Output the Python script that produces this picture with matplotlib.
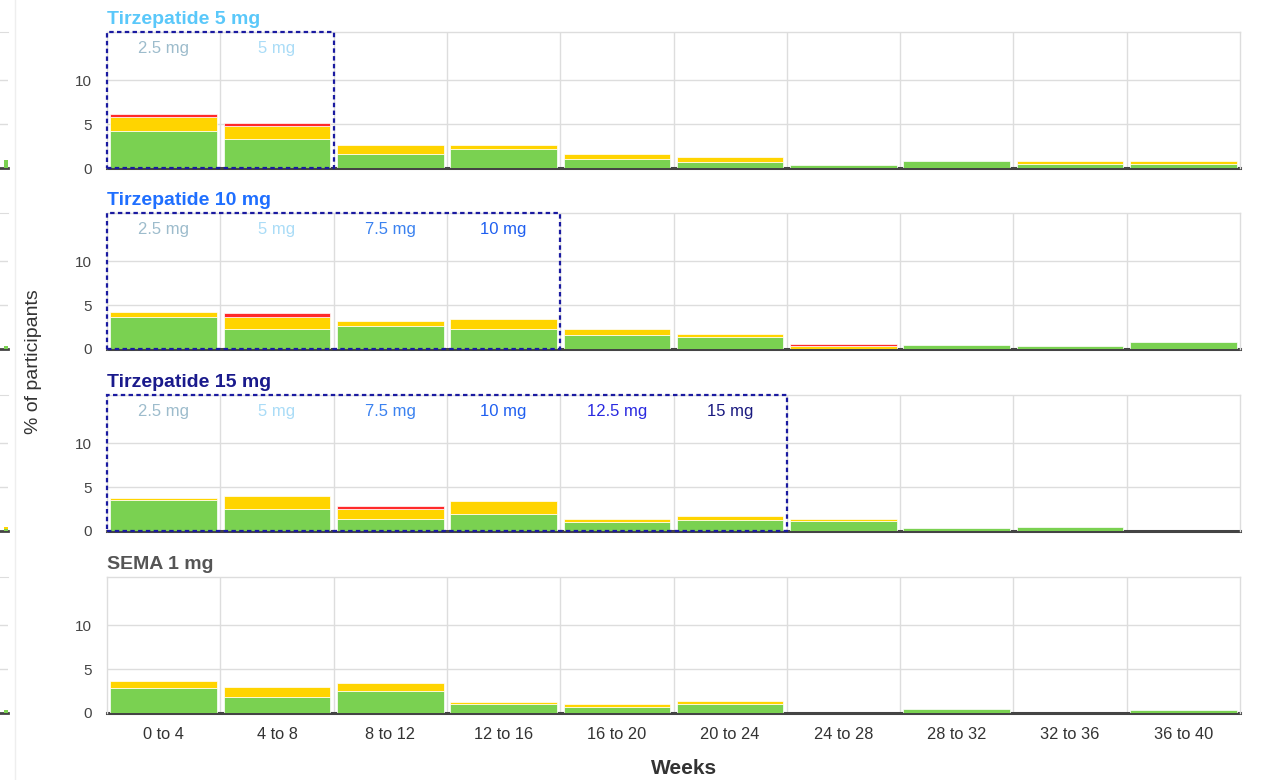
import matplotlib.pyplot as plt
from matplotlib.patches import Rectangle
from matplotlib.lines import Line2D
import numpy as np

plt.rcParams['font.family'] = ['Liberation Sans', 'DejaVu Sans']

# x categories
weeks = ['0 to 4', '4 to 8', '8 to 12', '12 to 16', '16 to 20',
         '20 to 24', '24 to 28', '28 to 32', '32 to 36', '36 to 40']

# panel titles
titles = ['Tirzepatide 5 mg', 'Tirzepatide 10 mg', 'Tirzepatide 15 mg', 'SEMA 1 mg']
title_colors = ['#5ac8fa', '#1f6fff', '#1a1a8c', '#555555']

# dose escalation labels shown in the dotted box
doses = ['2.5 mg', '5 mg', '7.5 mg', '10 mg', '12.5 mg', '15 mg']
dose_colors = ['#9dbccc', '#aadcf7', '#3b82f0', '#1f5ff0', '#2a2ae0', '#1a1a80']
box_columns = [2, 4, 6, 0]

# % of participants, stacked: mild (green), moderate (yellow), severe (red)
tirz5_mild = [4.2, 3.3, 1.6, 2.2, 1.0, 0.7, 0.3, 0.8, 0.5, 0.5]
tirz5_moderate = [1.6, 1.5, 1.0, 0.4, 0.6, 0.5, 0.0, 0.0, 0.3, 0.3]
tirz5_severe = [0.3, 0.3, 0.0, 0.0, 0.0, 0.0, 0.0, 0.0, 0.0, 0.0]

tirz10_mild = [3.6, 2.3, 2.6, 2.3, 1.6, 1.4, 0.0, 0.5, 0.3, 0.8]
tirz10_moderate = [0.6, 1.4, 0.6, 1.1, 0.7, 0.3, 0.3, 0.0, 0.0, 0.0]
tirz10_severe = [0.0, 0.45, 0.0, 0.0, 0.0, 0.0, 0.3, 0.0, 0.0, 0.0]

tirz15_mild = [3.5, 2.5, 1.4, 1.9, 1.0, 1.2, 1.1, 0.3, 0.5, 0.0]
tirz15_moderate = [0.3, 1.5, 1.1, 1.5, 0.4, 0.5, 0.3, 0.0, 0.0, 0.0]
tirz15_severe = [0.0, 0.0, 0.3, 0.0, 0.0, 0.0, 0.0, 0.0, 0.0, 0.0]

sema_mild = [2.8, 1.8, 2.5, 1.0, 0.7, 1.0, 0.0, 0.5, 0.0, 0.3]
sema_moderate = [0.8, 1.2, 0.9, 0.3, 0.3, 0.4, 0.0, 0.0, 0.0, 0.0]
sema_severe = [0.0, 0.0, 0.0, 0.0, 0.0, 0.0, 0.0, 0.0, 0.0, 0.0]

mild = [tirz5_mild, tirz10_mild, tirz15_mild, sema_mild]
moderate = [tirz5_moderate, tirz10_moderate, tirz15_moderate, sema_moderate]
severe = [tirz5_severe, tirz10_severe, tirz15_severe, sema_severe]

# bits of the neighbouring chart cut off on the left edge
sliver_mild = [0.9, 0.3, 0.2, 0.3]
sliver_moderate = [0.0, 0.0, 0.3, 0.0]

green = '#7ad151'
yellow = '#ffd400'
red = '#ff2a2a'
ymax = 15.5

fig = plt.figure(figsize=(12.61, 7.8), dpi=100)

# panels placed by hand (pixels -> figure fraction)
W, H = 1261.0, 780.0
zero_px = [168, 349, 531, 713]
panel_h = 136
left_px, right_px = 107, 1240


# zero-height segments should not draw a white edge over the zero line
def nz(v):
    v = np.array(v, dtype=float)
    return np.where(v > 0, v, np.nan)


for i in range(4):
    bottom = 1 - zero_px[i] / H
    ax = fig.add_axes([left_px / W, bottom, (right_px - left_px) / W, panel_h / H])
    x = np.arange(len(weeks))
    m = np.array(mild[i])
    mo = np.array(moderate[i])
    s = np.array(severe[i])
    ax.bar(x, nz(m), width=0.94, color=green, edgecolor='white', linewidth=0.5, zorder=3)
    ax.bar(x, nz(mo), width=0.94, bottom=m, color=yellow, edgecolor='white', linewidth=0.5, zorder=3)
    ax.bar(x, nz(s), width=0.94, bottom=m + mo, color=red, edgecolor='white', linewidth=0.5, zorder=3)

    ax.set_xlim(-0.5, len(weeks) - 0.5)
    ax.set_ylim(0, ymax)
    ax.set_yticks([0, 5, 10])
    for yv in [5, 10]:
        ax.axhline(yv, color='#dddddd', lw=1, zorder=1)
    for xv in np.arange(0.5, len(weeks) - 0.5):
        ax.axvline(xv, color='#dddddd', lw=1, zorder=1)
    for sp in ['top', 'right', 'left']:
        ax.spines[sp].set_color('#dddddd')
        ax.spines[sp].set_linewidth(1)
    # zero line sits under the bars
    ax.spines['bottom'].set_color('#444444')
    ax.spines['bottom'].set_linewidth(2.2)
    ax.spines['bottom'].set_zorder(2)
    ax.tick_params(axis='both', length=0, labelsize=11, colors='#444444', pad=11)
    ax.set_xticks(x)
    if i == 3:
        ax.set_xticklabels(weeks, fontsize=11.8, color='#333333')
        ax.tick_params(axis='x', pad=10)
    else:
        ax.set_xticklabels([])

    ax.text(0, 1.03, titles[i], transform=ax.transAxes, fontsize=14,
            fontweight='bold', color=title_colors[i], ha='left', va='bottom')

    n = box_columns[i]
    if n > 0:
        for j in range(n):
            ax.text(j, 13.6, doses[j], color=dose_colors[j], fontsize=12,
                    ha='center', va='center', zorder=4)
        ax.add_patch(Rectangle((-0.5, 0), n, ymax, fill=False, edgecolor='#1a1aa0',
                               linewidth=1.6, linestyle=(0, (2, 1.5)), clip_on=False, zorder=6))

    # neighbouring chart cut off at the left edge
    sl = fig.add_axes([0, bottom, 8 / W, panel_h / H])
    sl.set_xlim(0, 1)
    sl.set_ylim(0, ymax)
    sl.bar([0.8], nz([sliver_mild[i]]), width=0.5, color=green, zorder=3)
    sl.bar([0.8], nz([sliver_moderate[i]]), bottom=[sliver_mild[i]], width=0.5, color=yellow, zorder=3)
    for yv in [5, 10]:
        sl.axhline(yv, color='#dddddd', lw=1, zorder=1)
    for sp in ['left', 'right']:
        sl.spines[sp].set_visible(False)
    sl.spines['top'].set_color('#dddddd')
    sl.spines['bottom'].set_color('#444444')
    sl.spines['bottom'].set_linewidth(2)
    sl.spines['bottom'].set_zorder(2)
    sl.set_xticks([])
    sl.set_yticks([])

fig.add_artist(Line2D([15 / W, 15 / W], [0, 1], color='#eeeeee', lw=1))

fig.text(33 / W, 1 - 362 / H, '% of participants', rotation=90, fontsize=14,
         color='#333333', ha='center', va='center')
fig.text(684 / W, 1 - 768 / H, 'Weeks', fontsize=15, fontweight='bold',
         color='#333333', ha='center', va='center')

fig.savefig('out.png', dpi=100, facecolor='white')
